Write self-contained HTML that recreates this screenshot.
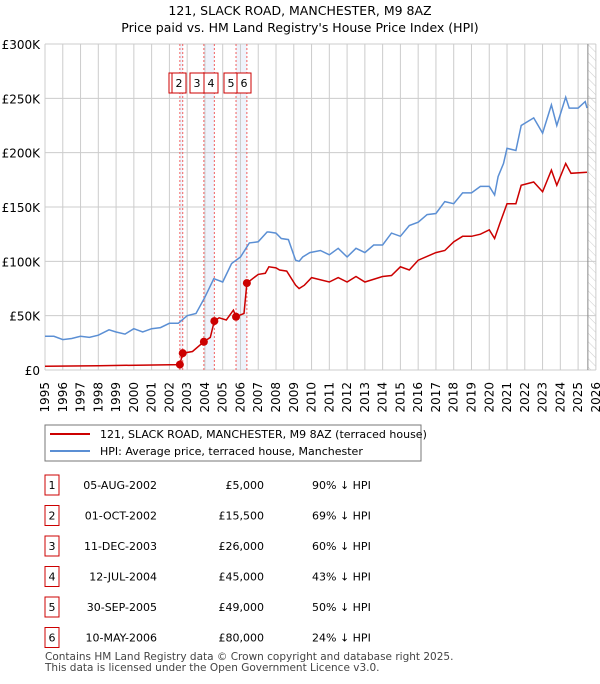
<!DOCTYPE html>
<html><head><meta charset="utf-8"><style>
body{margin:0;background:#fff;font-family:"DejaVu Sans","Liberation Sans",sans-serif;}
svg text{font-family:"DejaVu Sans","Liberation Sans",sans-serif;}
</style></head><body>
<svg id="chart" width="600" height="680" viewBox="0 0 600 680" xmlns="http://www.w3.org/2000/svg">
<defs><pattern id="hatch" width="6" height="6" patternUnits="userSpaceOnUse" patternTransform="rotate(-45)"><line x1="0" y1="0" x2="0" y2="6" stroke="#ccc" stroke-width="1"/></pattern></defs>
<text x="300" y="15" text-anchor="middle" font-size="12.5">121, SLACK ROAD, MANCHESTER, M9 8AZ</text>
<text x="300" y="32" text-anchor="middle" font-size="12.5">Price paid vs. HM Land Registry's House Price Index (HPI)</text>
<g id="plot"></g>
<g>
<rect x="45" y="425" width="376" height="36" fill="#fff" stroke="#777"/>
<line x1="50" y1="434" x2="90" y2="434" stroke="#cc0000" stroke-width="2"/>
<text x="100" y="438" font-size="11">121, SLACK ROAD, MANCHESTER, M9 8AZ (terraced house)</text>
<line x1="50" y1="451" x2="90" y2="451" stroke="#5b8fd4" stroke-width="2"/>
<text x="100" y="455" font-size="11">HPI: Average price, terraced house, Manchester</text>
</g>
<g id="table"></g>
<text x="45" y="660" font-size="10.5" fill="#444">Contains HM Land Registry data © Crown copyright and database right 2025.</text>
<text x="45" y="671" font-size="10.5" fill="#444">This data is licensed under the Open Government Licence v3.0.</text>
</svg>
<script>
const hpiYears=[1995,1995.5,1996,1996.5,1997,1997.5,1998,1998.6,1999,1999.5,2000,2000.5,2001,2001.5,2002,2002.5,2003,2003.5,2004,2004.5,2005,2005.5,2006,2006.5,2007,2007.5,2007.6,2008,2008.3,2008.7,2009.1,2009.3,2009.5,2009.9,2010.5,2011,2011.5,2012,2012.5,2013,2013.5,2014,2014.5,2015,2015.5,2016,2016.5,2017,2017.5,2018,2018.5,2019,2019.5,2020,2020.3,2020.5,2020.8,2021,2021.5,2021.8,2022.5,2023,2023.5,2023.8,2024.3,2024.5,2025,2025.4,2025.5];
const hpiValues=[31,31,28,29,31,30,32,37,35,33,38,35,38,39,43,43,50,52,67,84,81,98,104,117,118,127,127,126,121,120,101,100,104,108,110,106,112,104,112,108,115,115,126,123,133,136,143,144,155,153,163,163,169,169,161,178,190,204,202,225,232,218,244,225,251,241,241,247,241];
const redYears=[1995,1998,2002.59,2002.75,2003.3,2003.94,2004.3,2004.53,2004.8,2005.2,2005.6,2005.75,2006.2,2006.36,2007,2007.4,2007.6,2008,2008.2,2008.6,2009.1,2009.3,2009.6,2010,2011,2011.5,2012,2012.5,2013,2014,2014.5,2015,2015.5,2016,2017,2017.5,2018,2018.5,2019,2019.5,2020,2020.3,2020.6,2021,2021.5,2021.8,2022.5,2023,2023.5,2023.8,2024.3,2024.6,2025.5];
const redValues=[3.5,4,5,15.5,17,26,30,45,48,46,55,49,52,80,88,89,95,94,92,91,78,75,78,85,81,85,81,86,81,86,87,95,92,101,108,110,118,123,123,125,129,121,135,153,153,170,173,164,184,170,190,181,182];
const saleYears=[2002.59,2002.75,2003.94,2004.53,2005.75,2006.36];
const saleValues=[5,15.5,26,45,49,80];
const saleLabels=["1","2","3","4","5","6"];
const saleDates=["05-AUG-2002","01-OCT-2002","11-DEC-2003","12-JUL-2004","30-SEP-2005","10-MAY-2006"];
const salePrices=["£5,000","£15,500","£26,000","£45,000","£49,000","£80,000"];
const saleDiffs=["90% ↓ HPI","69% ↓ HPI","60% ↓ HPI","43% ↓ HPI","50% ↓ HPI","24% ↓ HPI"];
const yTicks=[0,50,100,150,200,250,300];
const yTickLabels=["£0","£50K","£100K","£150K","£200K","£250K","£300K"];
const xTicks=[];for(let y=1995;y<=2026;y++)xTicks.push(y);

const NS="http://www.w3.org/2000/svg";
const X0=45,YW=17.77,Y0=370,YK=326/300;
const sx=y=>X0+(y-1995)*YW, sy=v=>Y0-v*YK;
const plot=document.getElementById('plot');
function mk(t,a,p){const e=document.createElementNS(NS,t);for(const k in a)e.setAttribute(k,a[k]);(p||plot).appendChild(e);return e;}
let h=mk('rect',{x:sx(2025.55),y:sy(300),width:sx(2026)-sx(2025.55),height:326,fill:'url(#hatch)'});


for(let i=0;i<6;i+=2){const b=mk('rect',{x:sx(saleYears[i]),y:sy(300),width:sx(saleYears[i+1])-sx(saleYears[i]),height:326,fill:'#e8eef9',opacity:0.7});

}
xTicks.forEach(y=>{const g=mk('line',{x1:sx(y),x2:sx(y),y1:sy(0),y2:sy(300),stroke:'#ccc'});


const t=mk('text',{x:0,y:0,'font-size':12,'text-anchor':'end',transform:`translate(${sx(y)+4},382) rotate(-90)`});t.textContent=y;

});
yTicks.forEach((v,i)=>{const g=mk('line',{x1:sx(1995),x2:sx(2026),y1:sy(v),y2:sy(v),stroke:'#ccc'});


const t=mk('text',{x:40,y:sy(v)+5,'font-size':12,'text-anchor':'end'});t.textContent=yTickLabels[i];

});
const nl=mk('line',{x1:sx(2025.55),x2:sx(2025.55),y1:sy(0),y2:sy(300),stroke:'#888'});


saleYears.forEach(y=>{const l=mk('line',{x1:sx(y),x2:sx(y),y1:sy(0),y2:sy(300),stroke:'#f06060','stroke-dasharray':'2,2'});

});
const pts=(xs,vs)=>xs.map((x,i)=>sx(x).toFixed(1)+','+sy(vs[i]).toFixed(1)).join(' ');
const hl=mk('polyline',{points:pts(hpiYears,hpiValues),fill:'none',stroke:'#5b8fd4','stroke-width':1.5});


const rl=mk('polyline',{points:pts(redYears,redValues),fill:'none',stroke:'#cc0000','stroke-width':1.5});


saleYears.forEach((y,i)=>{const c=mk('circle',{cx:sx(y),cy:sy(saleValues[i]),r:4,fill:'#cc0000'});

});
const boxX=[169,172,190,204,224,237];
[0,1,2,3,4,5].forEach(i=>{const g=mk('g',{});


mk('rect',{x:boxX[i],y:73,width:14,height:20,fill:'#fff',stroke:'#cc0000'},g);
const t=mk('text',{x:boxX[i]+7,y:87,'font-size':11,'text-anchor':'middle'},g);t.textContent=saleLabels[i];});
const tb=document.getElementById('table');
saleLabels.forEach((s,i)=>{const y=475+i*30.5;const g=mk('g',{},tb);


mk('rect',{x:45,y:y,width:14,height:20,fill:'#fff',stroke:'#cc0000'},g);
let t=mk('text',{x:52,y:y+14,'font-size':11,'text-anchor':'middle'},g);t.textContent=s;
t=mk('text',{x:157,y:y+14,'font-size':11,'text-anchor':'end'},g);t.textContent=saleDates[i];
t=mk('text',{x:264,y:y+14,'font-size':11,'text-anchor':'end'},g);t.textContent=salePrices[i];
t=mk('text',{x:312,y:y+14,'font-size':11},g);t.textContent=saleDiffs[i];});
</script>
</body></html>
